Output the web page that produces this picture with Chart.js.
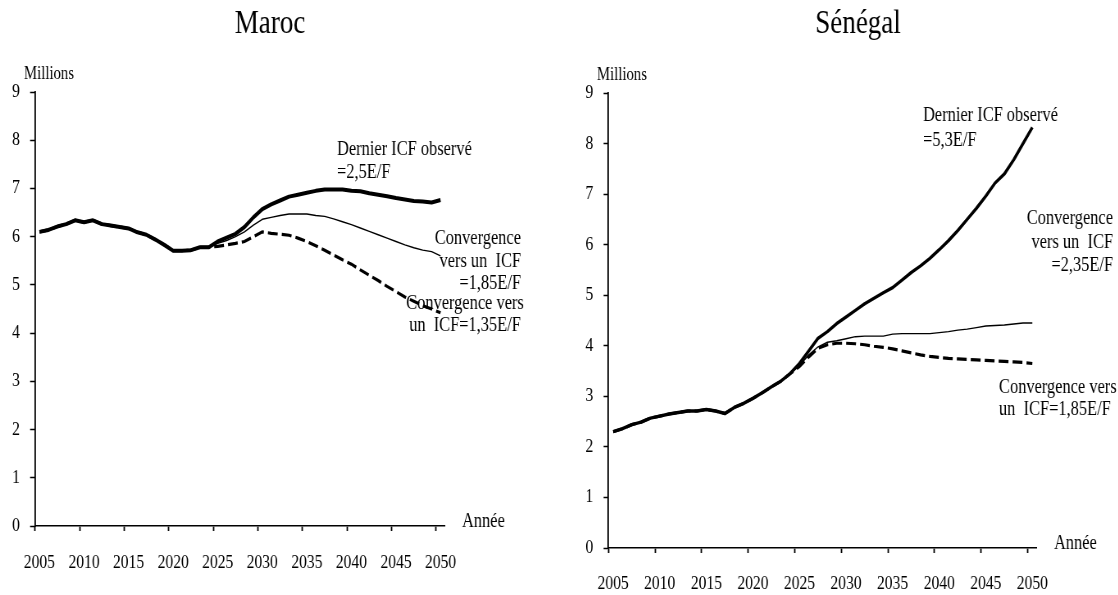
<!DOCTYPE html>
<html>
<head>
<meta charset="utf-8">
<script src="https://cdn.jsdelivr.net/npm/chart.js@4.4.1/dist/chart.umd.min.js"></script>
<style>
  html, body { margin: 0; padding: 0; background: #fff; width: 1118px; height: 595px; overflow: hidden; }
  .panel { position: absolute; top: 0; height: 595px; transform-origin: 0 0; }
  canvas { display: block; }
</style>
</head>
<body>
<div class="panel" id="panelMaroc"><canvas id="chartMaroc" width="682" height="595"></canvas></div>
<div class="panel" id="panelSenegal"><canvas id="chartSenegal" width="682" height="595"></canvas></div>
<script>
// Years on the horizontal axis
const years = ['2005','2006','2007','2008','2009','2010','2011','2012','2013','2014',
  '2015','2016','2017','2018','2019','2020','2021','2022','2023','2024',
  '2025','2026','2027','2028','2029','2030','2031','2032','2033','2034',
  '2035','2036','2037','2038','2039','2040','2041','2042','2043','2044',
  '2045','2046','2047','2048','2049','2050'];
const yTicks = [0, 1, 2, 3, 4, 5, 6, 7, 8, 9];

// Maroc, millions: 2005-2024 common history, then one series per scenario 2025-2050
const marocHistory = [6.10, 6.14, 6.21, 6.26, 6.34, 6.30, 6.34, 6.26, 6.23, 6.20,
  6.17, 6.09, 6.04, 5.94, 5.83, 5.71, 5.71, 5.72, 5.78, 5.78];
const marocDernier = [5.90, 5.98, 6.06, 6.20, 6.40, 6.57, 6.67, 6.75, 6.83, 6.87,
  6.91, 6.95, 6.98, 6.98, 6.98, 6.95, 6.94, 6.90, 6.87, 6.84,
  6.80, 6.77, 6.74, 6.73, 6.71, 6.76];
const marocConv185 = [5.86, 5.92, 6.00, 6.10, 6.24, 6.36, 6.40, 6.44, 6.47, 6.47,
  6.47, 6.44, 6.42, 6.37, 6.31, 6.25, 6.18, 6.11, 6.04, 5.97,
  5.90, 5.83, 5.77, 5.72, 5.69, 5.60];
const marocConv135 = [5.80, 5.83, 5.86, 5.90, 6.00, 6.10, 6.07, 6.05, 6.03, 5.97,
  5.90, 5.81, 5.72, 5.62, 5.52, 5.43, 5.31, 5.20, 5.09, 4.97,
  4.86, 4.75, 4.66, 4.57, 4.50, 4.42];

// Sénégal, millions
const senegalHistory = [2.30, 2.36, 2.44, 2.49, 2.57, 2.61, 2.65, 2.68, 2.71, 2.71,
  2.74, 2.71, 2.66, 2.78, 2.86, 2.96, 3.07, 3.19, 3.30, 3.45];
const senegalDernier = [3.65, 3.90, 4.15, 4.28, 4.44, 4.57, 4.70, 4.83, 4.94, 5.05,
  5.15, 5.30, 5.45, 5.58, 5.73, 5.90, 6.08, 6.28, 6.50, 6.72,
  6.96, 7.22, 7.40, 7.68, 8.00, 8.32];
const senegalConv235 = [3.61, 3.82, 3.98, 4.07, 4.10, 4.14, 4.18, 4.19, 4.19, 4.19,
  4.23, 4.24, 4.24, 4.24, 4.24, 4.26, 4.28, 4.31, 4.33, 4.36,
  4.39, 4.40, 4.41, 4.43, 4.45, 4.45];
const senegalConv185 = [3.59, 3.78, 3.95, 4.02, 4.05, 4.05, 4.04, 4.02, 3.99, 3.97,
  3.94, 3.90, 3.86, 3.82, 3.79, 3.77, 3.75, 3.74, 3.73, 3.72,
  3.71, 3.70, 3.69, 3.68, 3.67, 3.65];

// Horizontal squeeze applied to each panel (narrow Times-like lettering)
const SX = 0.82;
const SERIF = '"Liberation Serif", "Times New Roman", serif';

// Free text drawn on top of each panel, given in page coordinates
const textPlugin = {
  id: 'panelTexts',
  afterDraw(chart, args, opts) {
    const ctx = chart.ctx;
    ctx.save();
    ctx.fillStyle = '#000';
    ctx.textBaseline = 'alphabetic';
    for (const t of opts.items) {
      ctx.font = t.size + 'px ' + SERIF;
      ctx.textAlign = t.align || 'left';
      ctx.fillText(t.text, (t.x - opts.left) / SX, t.y);
    }
    ctx.restore();
  }
};

function buildChart(cfg) {
  const panel = document.getElementById(cfg.panel);
  panel.style.left = cfg.left + 'px';
  panel.style.transform = 'scaleX(' + SX + ')';
  const canvasW = 682;
  const areaLeft = (cfg.areaLeft - cfg.left) / SX;
  const areaRight = (cfg.areaRight - cfg.left) / SX;

  return new Chart(document.getElementById(cfg.canvas), {
    type: 'line',
    data: {
      labels: years,
      datasets: [
        { data: cfg.history.concat(cfg.high), borderColor: '#000', borderWidth: cfg.thick,
          pointRadius: 0, tension: 0, fill: false, borderJoinStyle: 'round' },
        { data: cfg.history.concat(cfg.mid), borderColor: '#000', borderWidth: 1.4,
          pointRadius: 0, tension: 0, fill: false, borderJoinStyle: 'round' },
        { data: cfg.history.concat(cfg.low), borderColor: '#000', borderWidth: 3.2,
          borderDash: [12, 5], pointRadius: 0, tension: 0, fill: false }
      ]
    },
    options: {
      responsive: false,
      animation: false,
      devicePixelRatio: 1,
      layout: { padding: { top: cfg.areaTop, left: 0, right: canvasW - areaRight, bottom: 0 } },
      plugins: {
        legend: { display: false },
        tooltip: { enabled: false },
        panelTexts: { left: cfg.left, items: cfg.texts }
      },
      scales: {
        x: {
          type: 'category',
          offset: true,
          border: { display: true, color: '#000', width: 1.6 },
          grid: {
            offset: true,
            drawOnChartArea: false,
            drawTicks: true,
            tickLength: 5,
            tickWidth: 1.8,
            tickColor: (c) => (c.index !== undefined && c.index % 5 === 0) ? '#000' : 'rgba(0,0,0,0)'
          },
          ticks: {
            autoSkip: false,
            maxRotation: 0,
            minRotation: 0,
            padding: cfg.xPad,
            color: '#000',
            font: { family: SERIF, size: 19 },
            callback: (v, i) => (i % 5 === 0 ? years[i] : '')
          },
          afterFit: (s) => { s.height = 595 - cfg.areaBottom; }
        },
        y: {
          type: 'linear',
          min: yTicks[0],
          max: yTicks[yTicks.length - 1],
          border: { display: true, color: '#000', width: 1.8 },
          grid: { drawOnChartArea: false, drawTicks: true, tickLength: 6, tickWidth: 1.5, tickColor: '#000' },
          ticks: {
            stepSize: 1,
            padding: 12.5,
            color: '#000',
            font: { family: SERIF, size: 19 },
            callback: (v) => (yTicks.includes(v) ? String(v) : '')
          },
          afterFit: (s) => { s.width = areaLeft; }
        }
      }
    },
    plugins: [textPlugin]
  });
}

buildChart({
  panel: 'panelMaroc', canvas: 'chartMaroc', left: 0,
  areaLeft: 35, areaRight: 445, areaTop: 92, areaBottom: 526, xPad: 21,
  history: marocHistory, high: marocDernier, mid: marocConv185, low: marocConv135,
  thick: 4,
  texts: [
    { text: 'Maroc', x: 270, y: 33, size: 33, align: 'center' },
    { text: 'Millions', x: 24, y: 79, size: 18 },
    { text: 'Année', x: 462, y: 527, size: 20 },
    { text: 'Dernier ICF observé', x: 337, y: 155, size: 20 },
    { text: '=2,5E/F', x: 337, y: 178, size: 20 },
    { text: 'Convergence', x: 521, y: 244, size: 20, align: 'right' },
    { text: 'vers un  ICF', x: 521, y: 267, size: 20, align: 'right' },
    { text: '=1,85E/F', x: 521, y: 289, size: 20, align: 'right' },
    { text: 'Convergence vers', x: 465, y: 309, size: 20, align: 'center' },
    { text: 'un  ICF=1,35E/F', x: 465, y: 331, size: 20, align: 'center' }
  ]
});

buildChart({
  panel: 'panelSenegal', canvas: 'chartSenegal', left: 559,
  areaLeft: 608.5, areaRight: 1037, areaTop: 93, areaBottom: 548, xPad: 20,
  history: senegalHistory, high: senegalDernier, mid: senegalConv235, low: senegalConv185,
  thick: 3.4,
  texts: [
    { text: 'Sénégal', x: 858, y: 33, size: 33, align: 'center' },
    { text: 'Millions', x: 597, y: 80, size: 18 },
    { text: 'Année', x: 1054, y: 549, size: 20 },
    { text: 'Dernier ICF observé', x: 923, y: 121, size: 20 },
    { text: '=5,3E/F', x: 923, y: 146, size: 20 },
    { text: 'Convergence', x: 1113, y: 224, size: 20, align: 'right' },
    { text: 'vers un  ICF', x: 1113, y: 248, size: 20, align: 'right' },
    { text: '=2,35E/F', x: 1113, y: 271, size: 20, align: 'right' },
    { text: 'Convergence vers', x: 999, y: 393, size: 20 },
    { text: 'un  ICF=1,85E/F', x: 999, y: 415, size: 20 }
  ]
});
</script>
</body>
</html>
